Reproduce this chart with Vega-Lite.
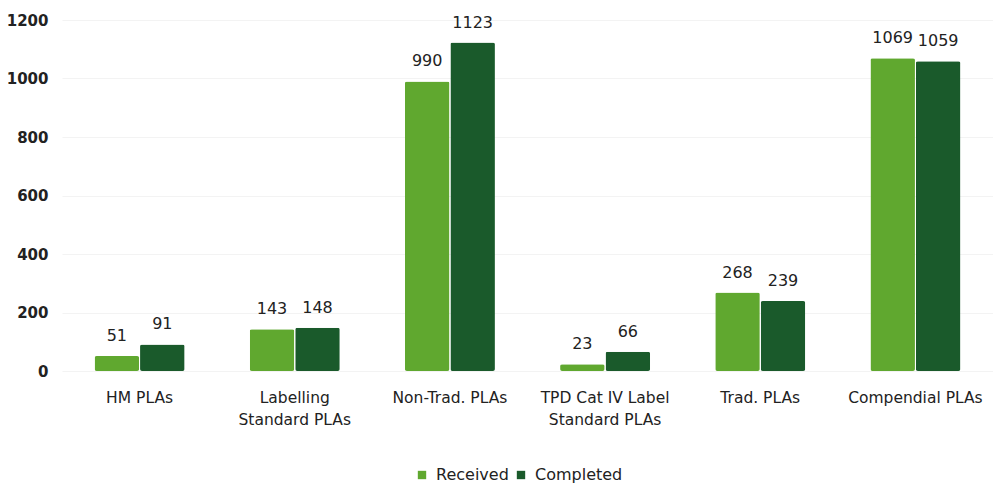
{
  "$schema": "https://vega.github.io/schema/vega-lite/v6.json",
  "width": 931,
  "height": 351,
  "autosize": "none",
  "padding": {"left": 62, "top": 20, "right": 0, "bottom": 116},
  "background": "white",
  "config": {
    "font": "DejaVu Sans",
    "view": {"stroke": null},
    "axis": {"labelFont": "DejaVu Sans", "labelColor": "#222222", "labelFontSize": 15}
  },
  "data": {
    "values": [
      {"category": "HM PLAs", "series": "Received", "value": 51},
      {"category": "HM PLAs", "series": "Completed", "value": 91},
      {"category": "Labelling Standard PLAs", "series": "Received", "value": 143},
      {"category": "Labelling Standard PLAs", "series": "Completed", "value": 148},
      {"category": "Non-Trad. PLAs", "series": "Received", "value": 990},
      {"category": "Non-Trad. PLAs", "series": "Completed", "value": 1123},
      {"category": "TPD Cat IV Label Standard PLAs", "series": "Received", "value": 23},
      {"category": "TPD Cat IV Label Standard PLAs", "series": "Completed", "value": 66},
      {"category": "Trad. PLAs", "series": "Received", "value": 268},
      {"category": "Trad. PLAs", "series": "Completed", "value": 239},
      {"category": "Compendial PLAs", "series": "Received", "value": 1069},
      {"category": "Compendial PLAs", "series": "Completed", "value": 1059}
    ]
  },
  "encoding": {
    "x": {
      "field": "category",
      "type": "nominal",
      "sort": null,
      "scale": {"paddingInner": 0.42, "paddingOuter": 0.21},
      "axis": {
        "title": null,
        "labelAngle": 0,
        "domain": false,
        "ticks": false,
        "labelPadding": 19,
        "labelLineHeight": 22,
        "labelFontSize": 15.5,
        "labelExpr": "datum.value == 'Labelling Standard PLAs' ? ['Labelling', 'Standard PLAs'] : datum.value == 'TPD Cat IV Label Standard PLAs' ? ['TPD Cat IV Label', 'Standard PLAs'] : datum.value"
      }
    },
    "xOffset": {"field": "series", "type": "nominal", "sort": ["Received", "Completed"], "scale": {"paddingInner": 0.02}},
    "y": {
      "field": "value",
      "type": "quantitative",
      "scale": {"domain": [0, 1200]},
      "axis": {
        "title": null,
        "values": [0, 200, 400, 600, 800, 1000, 1200],
        "format": "d",
        "domain": false,
        "ticks": false,
        "labelPadding": 14,
        "gridColor": "#f3f3f3",
        "labelFontWeight": "bold"
      }
    }
  },
  "layer": [
    {
      "mark": {"type": "bar", "cornerRadius": 2},
      "encoding": {
        "color": {
          "field": "series",
          "type": "nominal",
          "sort": ["Received", "Completed"],
          "scale": {"domain": ["Received", "Completed"], "range": ["#60a82f", "#1a5a2b"]},
          "legend": {
            "title": null,
            "orient": "none",
            "direction": "horizontal",
            "legendX": 352,
            "legendY": 447,
            "symbolType": "square",
            "symbolSize": 70,
            "labelFontSize": 16,
            "labelColor": "#222222",
            "labelFont": "DejaVu Sans",
            "columnPadding": 4,
            "labelOffset": 6
          }
        }
      }
    },
    {
      "mark": {"type": "text", "dy": -20, "fontSize": 16, "color": "#222222", "font": "DejaVu Sans"},
      "encoding": {"text": {"field": "value", "type": "quantitative", "format": "d"}}
    }
  ]
}
